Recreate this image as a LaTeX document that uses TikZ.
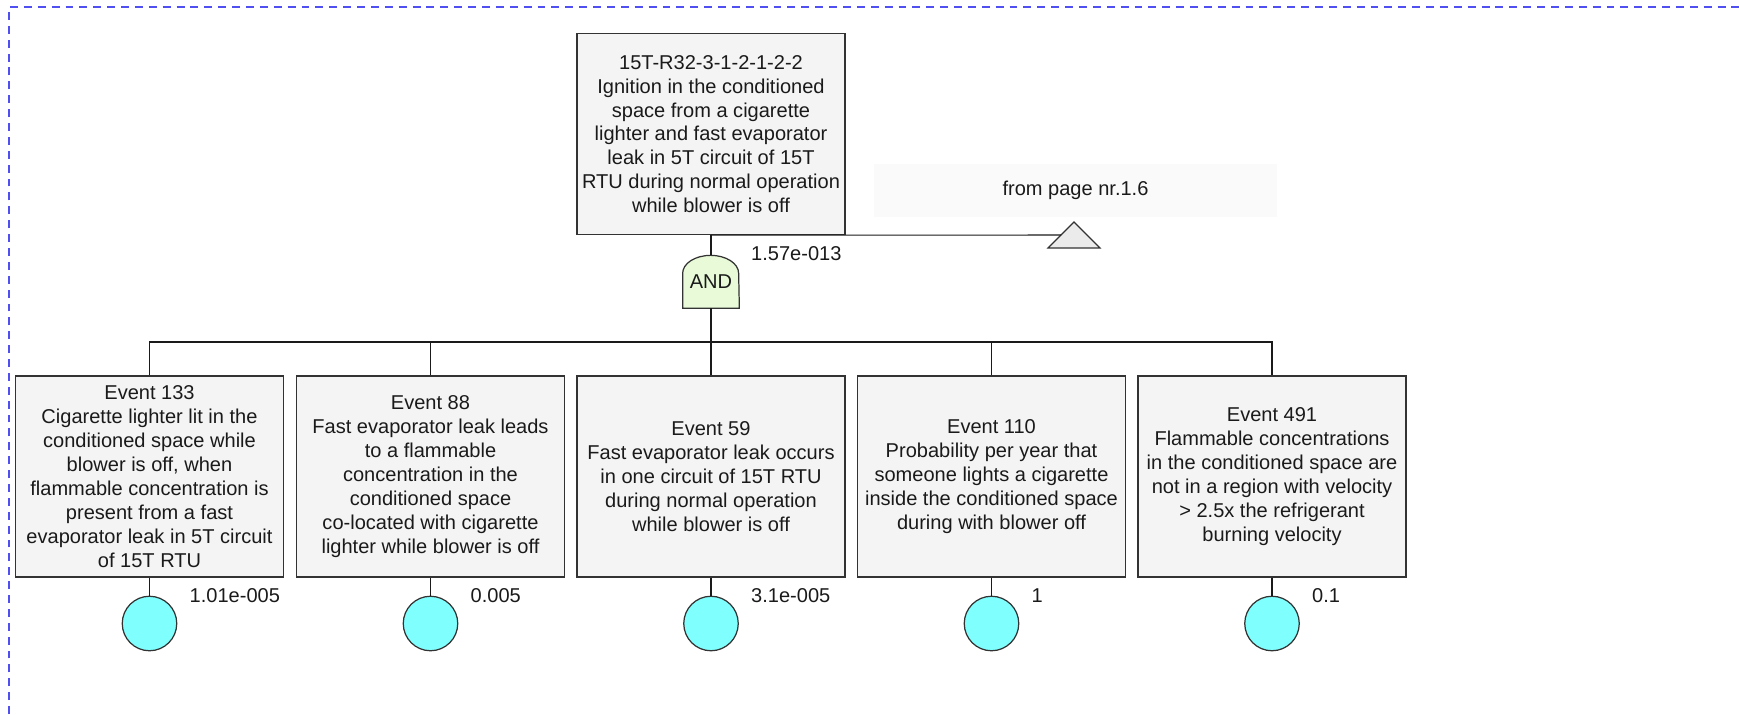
\documentclass[tikz,border=0pt]{standalone}
\usepackage{fontspec}
\setmainfont{Liberation Sans}
\usepackage{xcolor}
\definecolor{ftink}{HTML}{1A1A1A}
\definecolor{ftedge}{HTML}{333333}
\definecolor{ftboxbg}{HTML}{F4F4F4}
\definecolor{ftnotebg}{HTML}{FAFAFA}
\definecolor{ftgatebg}{HTML}{E8FAD8}
\definecolor{ftbasic}{HTML}{80FFFF}
\definecolor{fttribg}{HTML}{EBEBEB}
\definecolor{ftframe}{HTML}{5050F0}
\usepackage{tikz}
\usetikzlibrary{backgrounds}

\begin{document}
\begin{tikzpicture}[
      font=\fontsize{11.4}{13.6}\selectfont,
      evt/.style={draw=ftedge, fill=ftboxbg, line width=0.8pt,
                  minimum width=5.36cm, minimum height=4.02cm,
                  align=center, inner sep=1pt, text=ftink},
      basic/.style={circle, draw=ftedge, fill=ftbasic, line width=0.7pt,
                    minimum size=1.09cm, inner sep=0pt},
      prob/.style={anchor=west, text=ftink},
      gate/.style={minimum width=1.12cm, minimum height=1.06cm,
                   inner sep=0pt, text=ftink},
      fl/.style={draw=ftink, line width=0.6pt},
    ]

    \useasboundingbox (0,0) rectangle (34.78,-14.28);
    \draw[ftframe, line width=0.9pt, dash pattern=on 4.5pt off 3.4pt]
      (0.18,-14.28) -- (0.18,-0.14) -- (34.78,-0.14);

    % top event
    \node[evt] (top) at (14.22,-2.68)
      {15T-R32-3-1-2-1-2-2\\Ignition in the conditioned\\space from a cigarette\\
       lighter and fast evaporator\\leak in 5T circuit of 15T\\
       RTU during normal operation\\while blower is off};

    % transfer-in
    \node[fill=ftnotebg, minimum width=8.06cm, minimum height=1.06cm,
          text=ftink] (frompage) at (21.51,-3.81) {from page nr.1.6};
    \draw[ftedge, fill=fttribg, line width=0.7pt]
      (20.96,-4.96) -- (22.00,-4.96) -- (21.48,-4.44) -- cycle;
    \coordinate (tin) at (21.22,-4.70);

    % AND gate
    \node[gate] (and) at (14.22,-5.63) {AND};
    \begin{scope}[on background layer]
      \draw[ftedge, fill=ftgatebg, line width=0.7pt]
        (and.south west) -- ++(0,0.70)
        arc[start angle=180, end angle=0, x radius=0.56cm, y radius=0.36cm]
        -- (and.south east) -- cycle;
    \end{scope}
    \node[prob] (pg) at (14.90,-5.07) {1.57e-013};

    % basic events
    \node[evt] (e1) at (2.99,-9.53)
      {Event 133\\Cigarette lighter lit in the\\conditioned space while\\
       blower is off, when\\flammable concentration is\\present from a fast\\
       evaporator leak in 5T circuit\\of 15T RTU};
    \node[evt] (e2) at (8.61,-9.53)
      {Event 88\\Fast evaporator leak leads\\to a flammable\\
       concentration in the\\conditioned space\\co-located with cigarette\\
       lighter while blower is off};
    \node[evt] (e3) at (14.22,-9.53)
      {Event 59\\Fast evaporator leak occurs\\in one circuit of 15T RTU\\
       during normal operation\\while blower is off};
    \node[evt] (e4) at (19.83,-9.53)
      {Event 110\\Probability per year that\\someone lights a cigarette\\
       inside the conditioned space\\during with blower off};
    \node[evt] (e5) at (25.44,-9.53)
      {Event 491\\Flammable concentrations\\in the conditioned space are\\
       not in a region with velocity\\> 2.5x the refrigerant\\burning velocity};

    \node[basic] (b1) at (2.99,-12.47)  {};
    \node[basic] (b2) at (8.61,-12.47)  {};
    \node[basic] (b3) at (14.22,-12.47) {};
    \node[basic] (b4) at (19.83,-12.47) {};
    \node[basic] (b5) at (25.44,-12.47) {};

    \node[prob] (p1) at (3.67,-11.92)  {1.01e-005};
    \node[prob] (p2) at (9.29,-11.92)  {0.005};
    \node[prob] (p3) at (14.90,-11.92) {3.1e-005};
    \node[prob] (p4) at (20.51,-11.92) {1};
    \node[prob] (p5) at (26.12,-11.92) {0.1};

    % connectors
    \coordinate (bus) at (14.22,-6.84);
    \draw[fl] (top.south) -- (tin);
    \draw[fl] (top.south) -- (and.north);
    \draw[fl] (and.south) -- (e3.north);
    \draw[fl] (e1.north) |- (bus) -| (e5.north);
    \foreach \e in {e2,e4}
      \draw[fl] (\e.north) -- (\e.north |- bus);
    \foreach \i in {1,...,5}
      \draw[fl] (e\i.south) -- (b\i.north);

  \end{tikzpicture}
\end{document}
